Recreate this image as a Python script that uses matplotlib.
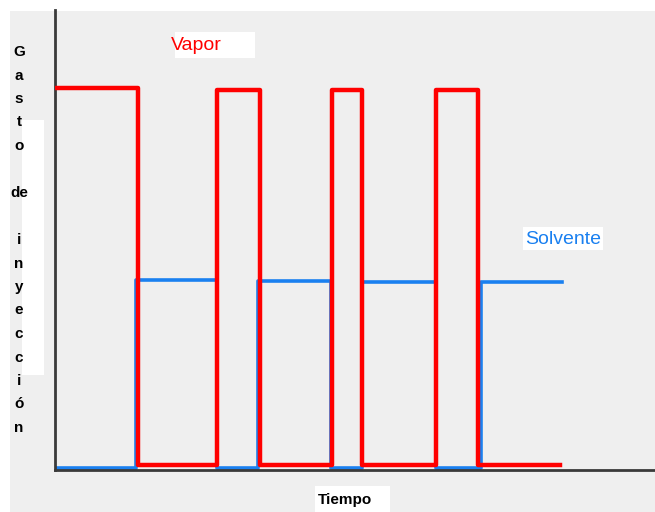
import matplotlib.pyplot as plt
from matplotlib.patches import Rectangle

# Datos (unidades arbitrarias de tiempo y gasto)
t_vapor = [0, 13.8, 27, 34.2, 46.2, 51.2, 63.5, 70.5, 84.2]
q_vapor = [83, 1.0, 82.6, 1.0, 82.6, 1.0, 82.6, 1.0, 1.0]

t_solv = [0, 13.5, 27, 33.8, 46.0, 51.2, 63.5, 71.0, 84.5]
q_solv = [0.5, 41.2, 0.5, 41.0, 0.5, 40.8, 0.5, 40.8, 40.8]

ylabel_letras = ['G', 'a', 's', 't', 'o', '', 'de', '', 'i', 'n', 'y', 'e', 'c', 'c', 'i', 'ó', 'n']

W, H = 655, 512
fig = plt.figure(figsize=(W / 100, H / 100), dpi=100, facecolor='white')


def caja(x0, y0, x1, y1, color='white', z=-1):
    # rectángulo en píxeles (origen arriba a la izquierda)
    fig.patches.append(Rectangle((x0 / W, 1 - y1 / H), (x1 - x0) / W, (y1 - y0) / H,
                                 transform=fig.transFigure, facecolor=color,
                                 edgecolor='none', zorder=z))


# fondo gris tipo escaneo
caja(10, 11, 655, 512, '#efefef', -2)
# parches blancos detrás de los textos
caja(22, 120, 44, 375)
caja(175, 32, 255, 58)
caja(523, 227, 603, 250)
caja(315, 486, 390, 512)

ax = fig.add_axes([55 / W, 1 - 470 / H, 600 / W, 460 / H])
ax.set_facecolor('none')
ax.set_xlim(0, 100)
ax.set_ylim(0, 100)
for s in ['top', 'right']:
    ax.spines[s].set_visible(False)
for s in ['left', 'bottom']:
    ax.spines[s].set_color('#3a3a3a')
    ax.spines[s].set_linewidth(2)
ax.set_xticks([])
ax.set_yticks([])

ax.plot(t_solv, q_solv, drawstyle='steps-post', color='#1a80f0', lw=2.6, zorder=2)
ax.plot(t_vapor, q_vapor, drawstyle='steps-post', color='#ff0000', lw=3.2, zorder=3)

fig.text(171 / W, 1 - 45 / H, 'Vapor', color='#ff0000',
         fontsize=14, family='Liberation Sans', ha='left', va='center')
fig.text(563 / W, 1 - 239 / H, 'Solvente', color='#1a80f0',
         fontsize=14, family='Liberation Sans', ha='center', va='center')
fig.text(345 / W, 1 - 500 / H, 'Tiempo', color='black', fontsize=11, fontweight='bold',
         family='Liberation Sans', ha='center', va='center')

for i, letra in enumerate(ylabel_letras):
    if letra:
        fig.text(19 / W, 1 - (52 + i * 23.5) / H, letra, fontsize=11, fontweight='bold',
                 family='Liberation Sans', ha='center', va='center')

fig.savefig('out.png', dpi=100)
